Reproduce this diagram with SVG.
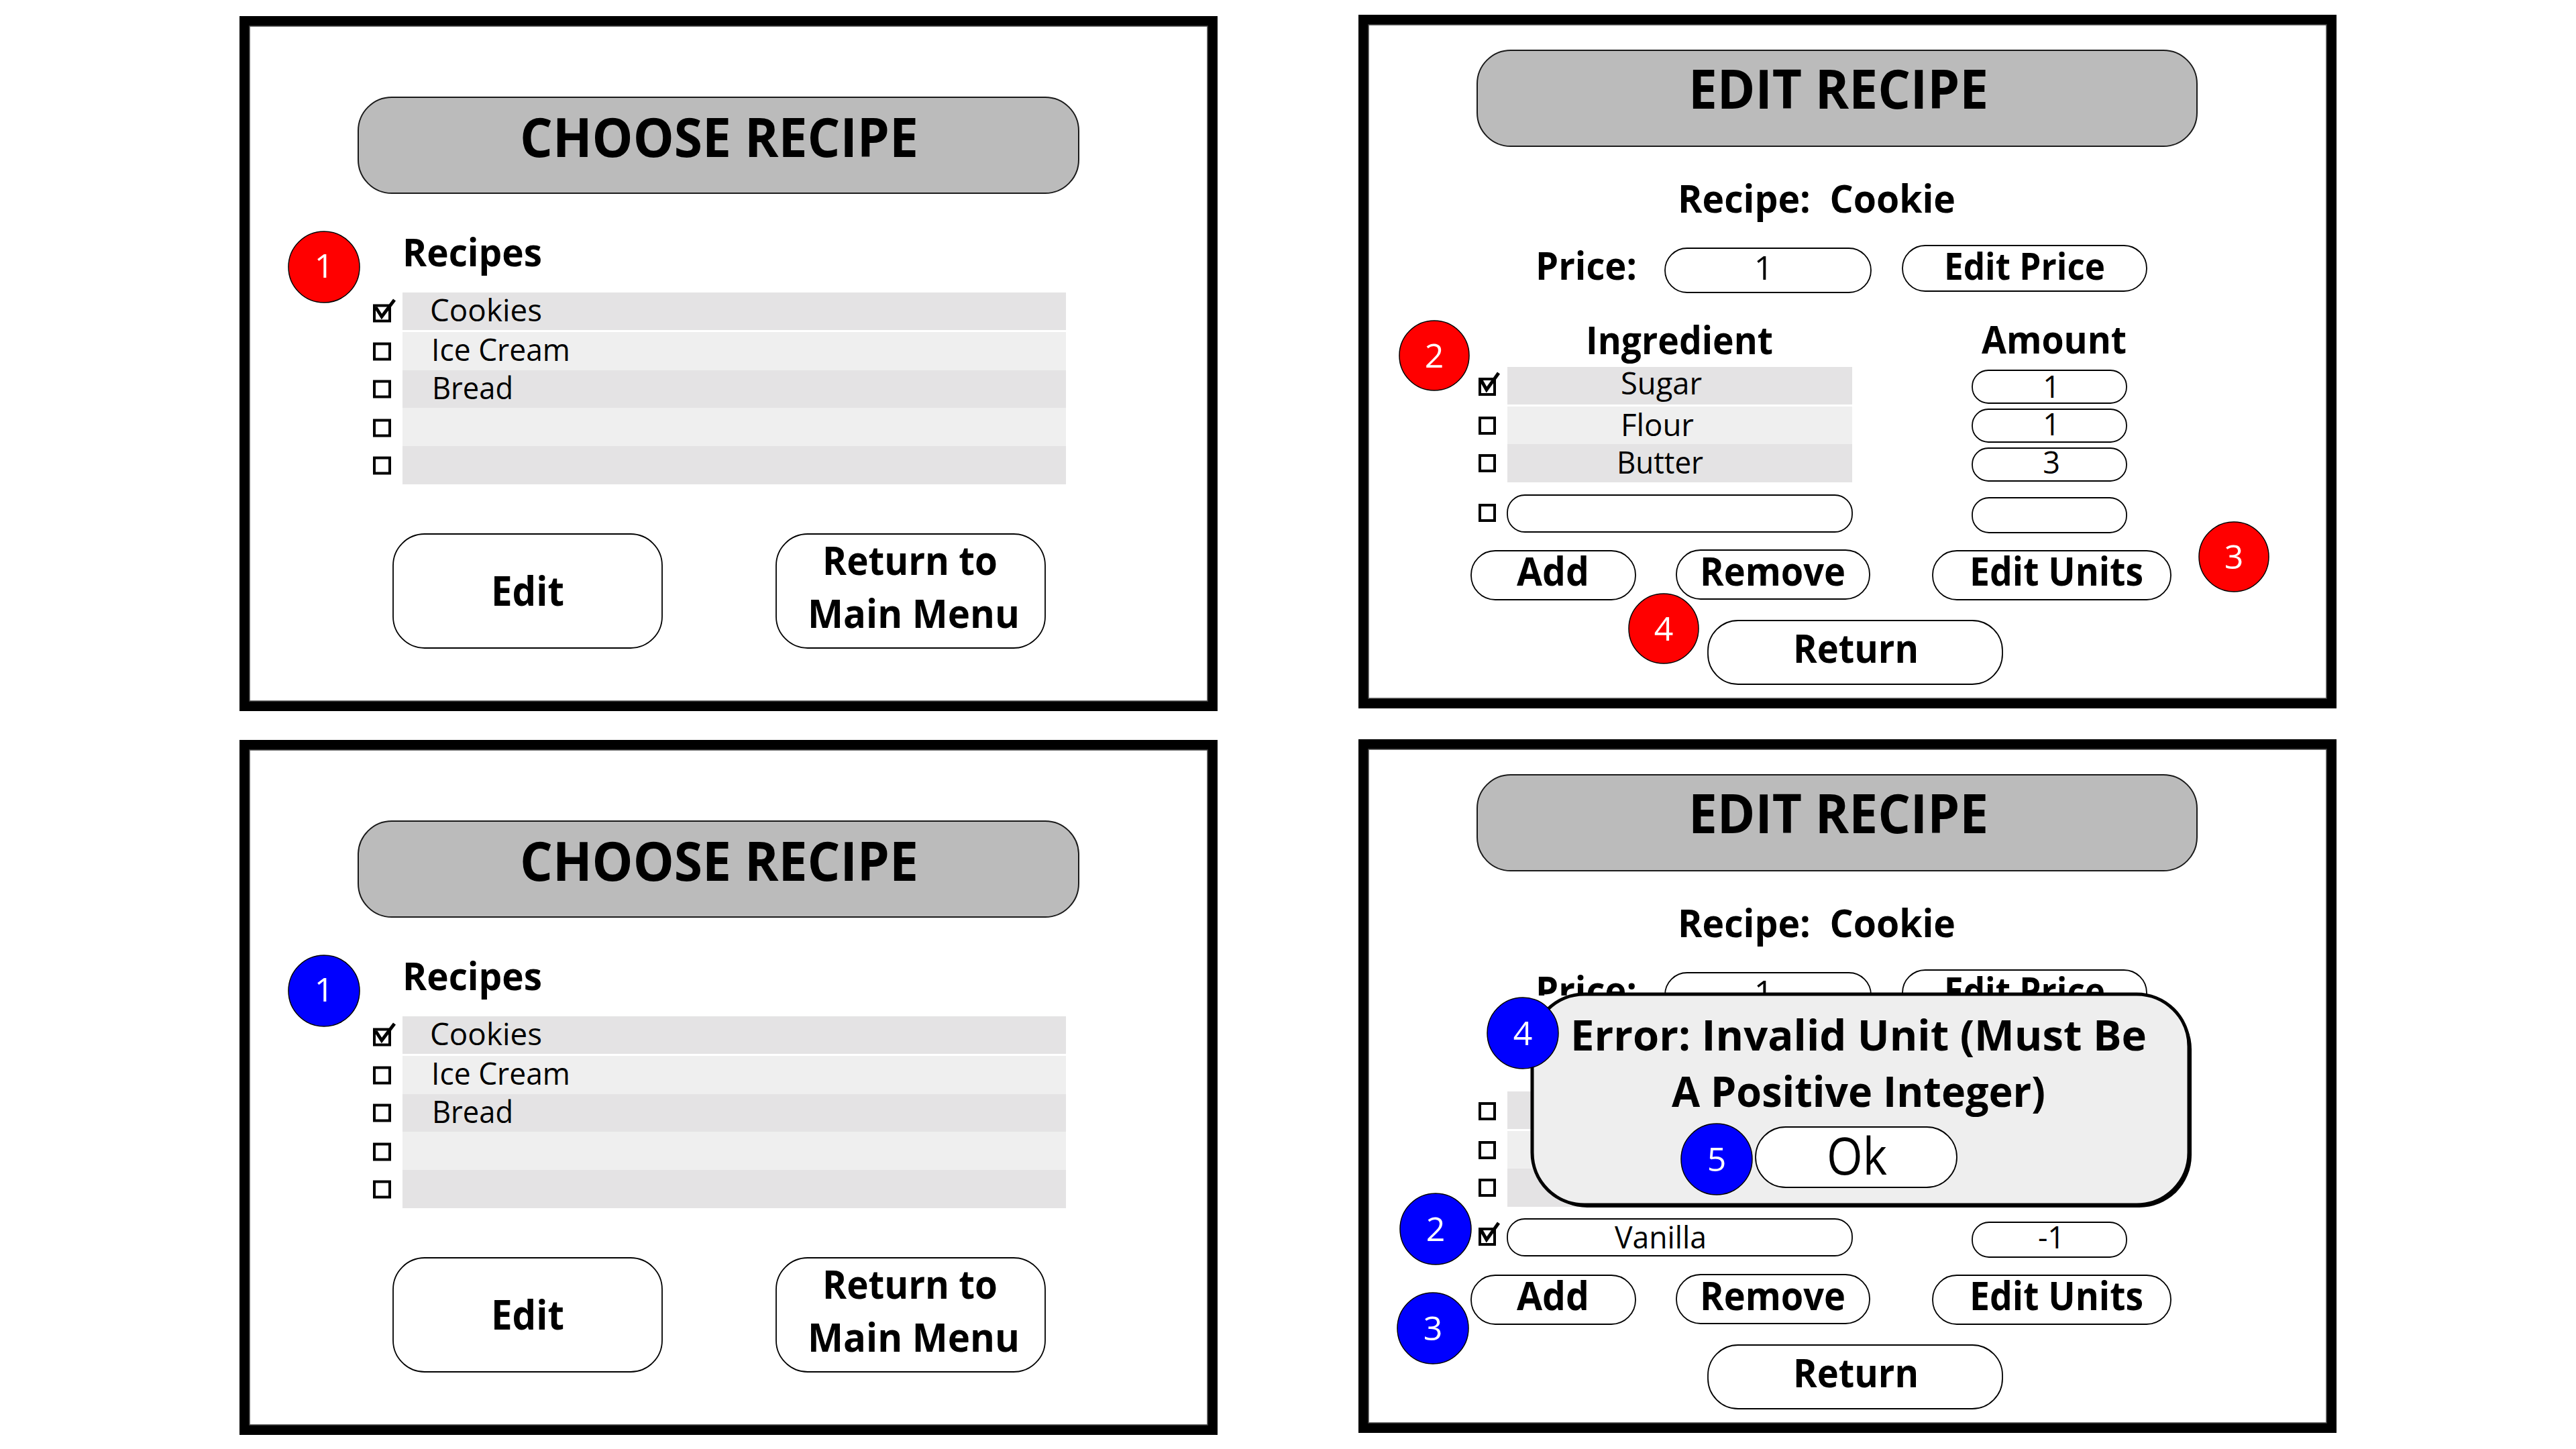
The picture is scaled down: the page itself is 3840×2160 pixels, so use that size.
<svg xmlns="http://www.w3.org/2000/svg" width="3840" height="2160" viewBox="0 0 3840 2160">
<style>
text{font-family:"Open Sans","Noto Sans","Liberation Sans",sans-serif;fill:#000}
.b{font-weight:700}
.frame{fill:#fff;stroke:#000;stroke-width:15}
.inner{fill:none;stroke:#4a4a4a;stroke-width:1.5}
.pill{fill:#bbbbbb;stroke:#1a1a1a;stroke-width:2}
.btn{fill:#fff;stroke:#000;stroke-width:1.8}
.rowA{fill:#e4e3e4}
.rowB{fill:#efefef}
.cb{fill:none;stroke:#000;stroke-width:4}
.ck{fill:none;stroke:#000;stroke-width:5;stroke-linejoin:miter}
.red{fill:#ff0000;stroke:#000;stroke-width:1.5}
.blue{fill:#0000ff;stroke:#000;stroke-width:1.5}
.num{fill:#fff;font-size:50px;text-anchor:middle}
.title{font-size:80px;font-weight:700}
.head{font-size:57px;font-weight:700}
.bl{font-size:59px;font-weight:700}
.item{font-size:45px}
.mid{text-anchor:middle}
.dlg{fill:#eeeeee;stroke:#000;stroke-width:5}
</style>
<defs>
  <clipPath id="aboveDialog"><rect x="2000" y="0" width="1500" height="1484"/></clipPath>
</defs>
<rect width="3840" height="2160" fill="#fff"/>
<g id="connectors"/>

<!-- ===== Top-left: CHOOSE RECIPE (red) ===== -->
<g id="panel-choose-1">
  <rect class="frame" x="364.5" y="31.5" width="1443" height="1021"/>
  <rect class="inner" x="372" y="39" width="1428" height="1006"/>
  <g id="choose1-title">
    <rect class="pill" x="534" y="145" width="1074" height="143" rx="50" ry="50"/>
    <text class="title" x="775" y="234" textLength="594" lengthAdjust="spacingAndGlyphs">CHOOSE RECIPE</text>
  </g>
  <g id="choose1-marker1">
    <circle class="red" cx="483" cy="398" r="53"/>
    <text class="num" x="483" y="414">1</text>
  </g>
  <g id="choose1-list">
    <text class="head" x="600" y="397" textLength="208" lengthAdjust="spacingAndGlyphs">Recipes</text>
    <rect class="rowA" x="600" y="436" width="989" height="56"/>
    <rect class="rowB" x="600" y="495" width="989" height="57"/>
    <rect class="rowA" x="600" y="552" width="989" height="56"/>
    <rect class="rowB" x="600" y="608" width="989" height="57"/>
    <rect class="rowA" x="600" y="665" width="989" height="57"/>
    <rect class="cb" x="558" y="455.5" width="23" height="23"/>
    <path class="ck" d="M560 458 L569 472 L588 447"/>
    <rect class="cb" x="558" y="512.5" width="23" height="23"/>
    <rect class="cb" x="558" y="568.5" width="23" height="23"/>
    <rect class="cb" x="558" y="626.5" width="23" height="23"/>
    <rect class="cb" x="558" y="682.5" width="23" height="23"/>
    <text class="item" x="641" y="479" textLength="167" lengthAdjust="spacingAndGlyphs">Cookies</text>
    <text class="item" x="643" y="538" textLength="207" lengthAdjust="spacingAndGlyphs">Ice Cream</text>
    <text class="item" x="644" y="595" textLength="121" lengthAdjust="spacingAndGlyphs">Bread</text>
  </g>
  <g id="choose1-edit">
    <rect class="btn" x="586" y="796" width="401" height="170" rx="47" ry="47"/>
    <text class="b" font-size="60" x="732" y="903" textLength="109" lengthAdjust="spacingAndGlyphs">Edit</text>
  </g>
  <g id="choose1-return">
    <rect class="btn" x="1157" y="796" width="401" height="170" rx="47" ry="47"/>
    <text class="bl" x="1226" y="857" textLength="261" lengthAdjust="spacingAndGlyphs">Return to</text>
    <text class="bl" x="1204" y="936" textLength="316" lengthAdjust="spacingAndGlyphs">Main Menu</text>
  </g>
</g>

<!-- ===== Bottom-left: CHOOSE RECIPE (blue) ===== -->
<g id="panel-choose-2" transform="translate(0,1079)">
  <rect class="frame" x="364.5" y="31.5" width="1443" height="1021"/>
  <rect class="inner" x="372" y="39" width="1428" height="1006"/>
  <g id="choose2-title">
    <rect class="pill" x="534" y="145" width="1074" height="143" rx="50" ry="50"/>
    <text class="title" x="775" y="234" textLength="594" lengthAdjust="spacingAndGlyphs">CHOOSE RECIPE</text>
  </g>
  <g id="choose2-marker1">
    <circle class="blue" cx="483" cy="398" r="53"/>
    <text class="num" x="483" y="414">1</text>
  </g>
  <g id="choose2-list">
    <text class="head" x="600" y="397" textLength="208" lengthAdjust="spacingAndGlyphs">Recipes</text>
    <rect class="rowA" x="600" y="436" width="989" height="56"/>
    <rect class="rowB" x="600" y="495" width="989" height="57"/>
    <rect class="rowA" x="600" y="552" width="989" height="56"/>
    <rect class="rowB" x="600" y="608" width="989" height="57"/>
    <rect class="rowA" x="600" y="665" width="989" height="57"/>
    <rect class="cb" x="558" y="455.5" width="23" height="23"/>
    <path class="ck" d="M560 458 L569 472 L588 447"/>
    <rect class="cb" x="558" y="512.5" width="23" height="23"/>
    <rect class="cb" x="558" y="568.5" width="23" height="23"/>
    <rect class="cb" x="558" y="626.5" width="23" height="23"/>
    <rect class="cb" x="558" y="682.5" width="23" height="23"/>
    <text class="item" x="641" y="479" textLength="167" lengthAdjust="spacingAndGlyphs">Cookies</text>
    <text class="item" x="643" y="538" textLength="207" lengthAdjust="spacingAndGlyphs">Ice Cream</text>
    <text class="item" x="644" y="595" textLength="121" lengthAdjust="spacingAndGlyphs">Bread</text>
  </g>
  <g id="choose2-edit">
    <rect class="btn" x="586" y="796" width="401" height="170" rx="47" ry="47"/>
    <text class="b" font-size="60" x="732" y="903" textLength="109" lengthAdjust="spacingAndGlyphs">Edit</text>
  </g>
  <g id="choose2-return">
    <rect class="btn" x="1157" y="796" width="401" height="170" rx="47" ry="47"/>
    <text class="bl" x="1226" y="857" textLength="261" lengthAdjust="spacingAndGlyphs">Return to</text>
    <text class="bl" x="1204" y="936" textLength="316" lengthAdjust="spacingAndGlyphs">Main Menu</text>
  </g>
</g>

<!-- ===== Top-right: EDIT RECIPE (red) ===== -->
<g id="panel-edit-1">
  <rect class="frame" x="2032.5" y="29.5" width="1443" height="1019"/>
  <rect class="inner" x="2040" y="37" width="1428" height="1004"/>
  <g id="edit1-title">
    <rect class="pill" x="2202" y="75" width="1073" height="143" rx="50" ry="50"/>
    <text class="title" x="2517" y="162" textLength="447" lengthAdjust="spacingAndGlyphs">EDIT RECIPE</text>
  </g>
  <text class="head" x="2501" y="317" textLength="414" lengthAdjust="spacingAndGlyphs" xml:space="preserve">Recipe:  Cookie</text>
  <g id="edit1-price">
    <text class="head" x="2289" y="417" textLength="151" lengthAdjust="spacingAndGlyphs">Price:</text>
    <rect class="btn" x="2482" y="370" width="307" height="66" rx="33" ry="33"/>
    <text font-size="50" class="mid" x="2629" y="417">1</text>
  </g>
  <g id="edit1-editprice">
    <rect class="btn" x="2836" y="366" width="364" height="68" rx="34" ry="34"/>
    <text class="b" font-size="55" x="2898" y="417" textLength="240" lengthAdjust="spacingAndGlyphs">Edit Price</text>
  </g>
  <g id="edit1-table">
    <text class="head" x="2364" y="528" textLength="279" lengthAdjust="spacingAndGlyphs">Ingredient</text>
    <text class="head" x="2954" y="527" textLength="216" lengthAdjust="spacingAndGlyphs">Amount</text>
    <rect class="rowA" x="2247" y="547" width="514" height="56"/>
    <rect class="rowB" x="2247" y="606" width="514" height="56"/>
    <rect class="rowA" x="2247" y="662" width="514" height="57"/>
    <text class="item" x="2416" y="588" textLength="121" lengthAdjust="spacingAndGlyphs">Sugar</text>
    <text class="item" x="2416" y="650" textLength="109" lengthAdjust="spacingAndGlyphs">Flour</text>
    <text class="item" x="2410" y="706" textLength="129" lengthAdjust="spacingAndGlyphs">Butter</text>
    <rect class="btn" x="2247" y="738" width="514" height="55" rx="26" ry="26"/>
    <rect class="cb" x="2206" y="565" width="22" height="23"/>
    <path class="ck" d="M2208 567 L2216 581 L2234 556"/>
    <rect class="cb" x="2206" y="623" width="22" height="23"/>
    <rect class="cb" x="2206" y="679" width="22" height="23"/>
    <rect class="cb" x="2206" y="753" width="22" height="23"/>
    <rect class="btn" x="2940" y="552" width="230" height="49" rx="24" ry="24"/>
    <rect class="btn" x="2940" y="610" width="230" height="49" rx="24" ry="24"/>
    <rect class="btn" x="2940" y="668" width="230" height="49" rx="24" ry="24"/>
    <rect class="btn" x="2940" y="742" width="230" height="52" rx="25" ry="25"/>
    <text class="item mid" x="3058" y="593">1</text>
    <text class="item mid" x="3058" y="649">1</text>
    <text class="item mid" x="3058" y="706">3</text>
  </g>
  <g id="edit1-add">
    <rect class="btn" x="2193" y="821" width="245" height="73" rx="36" ry="36"/>
    <text class="bl" x="2261" y="873" textLength="108" lengthAdjust="spacingAndGlyphs">Add</text>
  </g>
  <g id="edit1-remove">
    <rect class="btn" x="2499" y="820" width="288" height="73" rx="36" ry="36"/>
    <text class="bl" x="2534" y="873" textLength="217" lengthAdjust="spacingAndGlyphs">Remove</text>
  </g>
  <g id="edit1-editunits">
    <rect class="btn" x="2881" y="821" width="355" height="73" rx="36" ry="36"/>
    <text class="bl" x="2936" y="873" textLength="259" lengthAdjust="spacingAndGlyphs">Edit Units</text>
  </g>
  <g id="edit1-return">
    <rect class="btn" x="2546" y="925" width="439" height="95" rx="45" ry="45"/>
    <text class="bl" x="2673" y="988" textLength="187" lengthAdjust="spacingAndGlyphs">Return</text>
  </g>
  <g id="edit1-marker2">
    <circle class="red" cx="2138" cy="530" r="52"/>
    <text class="num" x="2138" y="548">2</text>
  </g>
  <g id="edit1-marker3">
    <circle class="red" cx="3330" cy="830" r="52"/>
    <text class="num" x="3330" y="848">3</text>
  </g>
  <g id="edit1-marker4">
    <circle class="red" cx="2480" cy="937" r="52"/>
    <text class="num" x="2480" y="955">4</text>
  </g>
</g>

<!-- ===== Bottom-right: EDIT RECIPE with error (blue) ===== -->
<g id="panel-edit-2" transform="translate(0,1080)">
  <rect class="frame" x="2032.5" y="29.5" width="1443" height="1019"/>
  <rect class="inner" x="2040" y="37" width="1428" height="1004"/>
  <g id="edit2-title">
    <rect class="pill" x="2202" y="75" width="1073" height="143" rx="50" ry="50"/>
    <text class="title" x="2517" y="162" textLength="447" lengthAdjust="spacingAndGlyphs">EDIT RECIPE</text>
  </g>
  <text class="head" x="2501" y="317" textLength="414" lengthAdjust="spacingAndGlyphs" xml:space="preserve">Recipe:  Cookie</text>
  <g id="edit2-price">
    <rect class="btn" x="2482" y="370" width="307" height="66" rx="33" ry="33"/>
    <rect class="btn" x="2836" y="366" width="364" height="68" rx="34" ry="34"/>
    <g clip-path="url(#aboveDialog)" transform="translate(0,-1080)">
      <text class="head" x="2289" y="1497" textLength="151" lengthAdjust="spacingAndGlyphs">Price:</text>
      <text font-size="50" class="mid" x="2629" y="1497">1</text>
      <text class="b" font-size="55" x="2898" y="1497" textLength="240" lengthAdjust="spacingAndGlyphs">Edit Price</text>
    </g>
  </g>
  <g id="edit2-table">
    <rect class="rowA" x="2247" y="547" width="514" height="56"/>
    <rect class="rowB" x="2247" y="606" width="514" height="56"/>
    <rect class="rowA" x="2247" y="662" width="514" height="57"/>
    <rect class="cb" x="2206" y="565" width="22" height="23"/>
    <rect class="cb" x="2206" y="623" width="22" height="23"/>
    <rect class="cb" x="2206" y="679" width="22" height="23"/>
    <rect class="btn" x="2940" y="552" width="230" height="49" rx="24" ry="24"/>
    <rect class="btn" x="2940" y="610" width="230" height="49" rx="24" ry="24"/>
    <rect class="btn" x="2940" y="668" width="230" height="49" rx="24" ry="24"/>
  </g>
  <g id="edit2-newrow">
    <rect class="btn" x="2247" y="737" width="514" height="55" rx="26" ry="26"/>
    <text class="item" x="2407" y="781" textLength="137" lengthAdjust="spacingAndGlyphs">Vanilla</text>
    <rect class="cb" x="2206" y="752" width="22" height="23"/>
    <path class="ck" d="M2208 754 L2216 768 L2234 743"/>
    <rect class="btn" x="2940" y="742" width="230" height="52" rx="25" ry="25"/>
    <text class="item mid" x="3058" y="781">-1</text>
  </g>
  <g id="edit2-add">
    <rect class="btn" x="2193" y="821" width="245" height="73" rx="36" ry="36"/>
    <text class="bl" x="2261" y="873" textLength="108" lengthAdjust="spacingAndGlyphs">Add</text>
  </g>
  <g id="edit2-remove">
    <rect class="btn" x="2499" y="820" width="288" height="73" rx="36" ry="36"/>
    <text class="bl" x="2534" y="873" textLength="217" lengthAdjust="spacingAndGlyphs">Remove</text>
  </g>
  <g id="edit2-editunits">
    <rect class="btn" x="2881" y="821" width="355" height="73" rx="36" ry="36"/>
    <text class="bl" x="2936" y="873" textLength="259" lengthAdjust="spacingAndGlyphs">Edit Units</text>
  </g>
  <g id="edit2-return">
    <rect class="btn" x="2546" y="925" width="439" height="95" rx="45" ry="45"/>
    <text class="bl" x="2673" y="988" textLength="187" lengthAdjust="spacingAndGlyphs">Return</text>
  </g>
  <g id="edit2-dialog">
    <rect x="2288" y="406" width="979" height="314" rx="78" ry="78" fill="#000"/>
    <rect class="dlg" x="2284" y="402" width="979" height="314" rx="78" ry="78"/>
    <text class="b" font-size="63" x="2341" y="486" textLength="859" lengthAdjust="spacingAndGlyphs">Error: Invalid Unit (Must Be</text>
    <text class="b" font-size="63" x="2492" y="570" textLength="557" lengthAdjust="spacingAndGlyphs">A Positive Integer)</text>
    <g id="edit2-ok">
      <rect class="btn" x="2617" y="600" width="300" height="90" rx="45" ry="45"/>
      <text font-size="77" x="2723" y="671" textLength="90" lengthAdjust="spacingAndGlyphs">Ok</text>
    </g>
  </g>
  <g id="edit2-marker4">
    <circle class="blue" cx="2270" cy="460" r="53"/>
    <text class="num" x="2270" y="478">4</text>
  </g>
  <g id="edit2-marker5">
    <circle class="blue" cx="2559" cy="648" r="53"/>
    <text class="num" x="2559" y="666">5</text>
  </g>
  <g id="edit2-marker2">
    <circle class="blue" cx="2140" cy="752" r="53"/>
    <text class="num" x="2140" y="770">2</text>
  </g>
  <g id="edit2-marker3">
    <circle class="blue" cx="2136" cy="900" r="53"/>
    <text class="num" x="2136" y="918">3</text>
  </g>
</g>
</svg>
